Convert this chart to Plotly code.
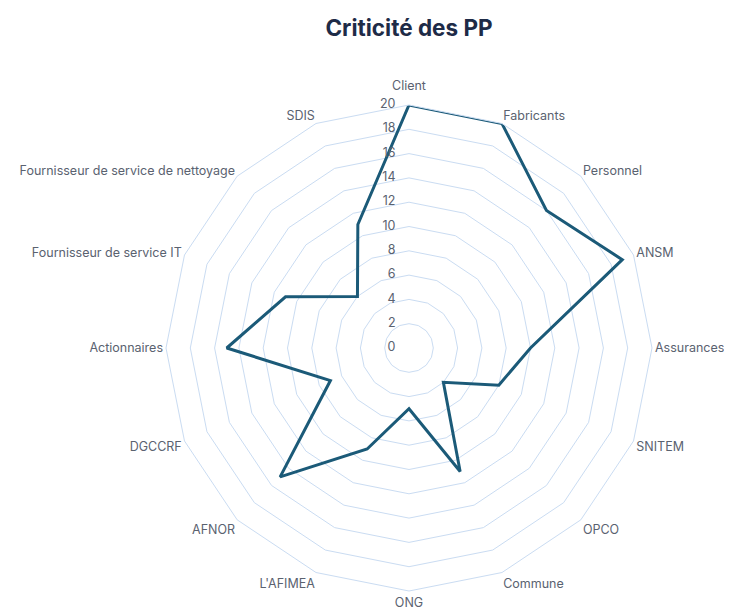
import plotly.graph_objects as go

categories = ["Client", "Fabricants", "Personnel", "ANSM", "Assurances", "SNITEM", "OPCO",
              "Commune", "ONG", "L'AFIMEA", "AFNOR", "DGCCRF", "Actionnaires",
              "Fournisseur de service IT", "Fournisseur de service de nettoyage", "SDIS"]
values = [20, 20, 16, 19, 10, 8, 4, 11, 5, 9, 15, 7, 15, 11, 6, 11]
radial_ticks = list(range(0, 21, 2))
radial_tick_labels = [str(v) for v in radial_ticks]
r_max = 20

W, H = 732, 611
# page content is offset by the default body margin, compensate
cx, cy, R = 401, 340, 243

label_col = "#5a6270"
font_family = "Inter, Open Sans, sans-serif"
fig = go.Figure()
fig.add_trace(go.Scatterpolar(
    r=values + values[:1],
    theta=categories + categories[:1],
    mode="lines",
    line=dict(color="#1b5a78", width=3),
    showlegend=False,
    hoverinfo="skip",
))
# radial tick labels, right-aligned to the left of the Client axis
fig.add_trace(go.Scatterpolar(
    r=[max(v, 1e-3) for v in radial_ticks],
    theta=[categories[0]] * len(radial_ticks),
    mode="markers+text",
    marker=dict(size=20, opacity=0),
    text=radial_tick_labels,
    textposition="middle left",
    textfont=dict(family=font_family, size=12.5, color=label_col),
    cliponaxis=False,
    showlegend=False,
    hoverinfo="skip",
))
# top category label drawn a little further out than the axis default
fig.add_trace(go.Scatterpolar(
    r=[r_max],
    theta=[categories[0]],
    mode="markers+text",
    marker=dict(size=18, opacity=0),
    text=[categories[0]],
    textposition="top center",
    textfont=dict(family=font_family, size=12.5, color=label_col),
    cliponaxis=False,
    showlegend=False,
    hoverinfo="skip",
))

grid_col = "#cadcf2"
fig.update_layout(
    width=W, height=H,
    margin=dict(l=0, r=0, t=0, b=0),
    paper_bgcolor="white",
    plot_bgcolor="white",
    font=dict(family=font_family, size=12.5, color=label_col),
    title=dict(text="<b>Criticité des PP</b>", x=cx / W, xanchor="center",
               y=1 - 20 / H, yanchor="middle",
               font=dict(family=font_family, size=22.5, color="#1e2b47")),
    polar=dict(
        domain=dict(x=[(cx - R) / W, (cx + R) / W],
                    y=[(H - cy - R) / H, (H - cy + R) / H]),
        bgcolor="white",
        gridshape="linear",
        radialaxis=dict(range=[0, r_max], tickvals=radial_ticks, angle=90,
                        showticklabels=False,
                        showline=False, showgrid=True, gridcolor=grid_col, gridwidth=1,
                        ticks=""),
        angularaxis=dict(direction="clockwise", rotation=90, showgrid=False,
                         tickmode="array", tickvals=categories,
                         ticktext=[""] + categories[1:],
                         showline=True, linecolor=grid_col, linewidth=1, ticks="",
                         tickfont=dict(size=12.5, color=label_col)),
    ),
)

fig.write_html("out.html")
